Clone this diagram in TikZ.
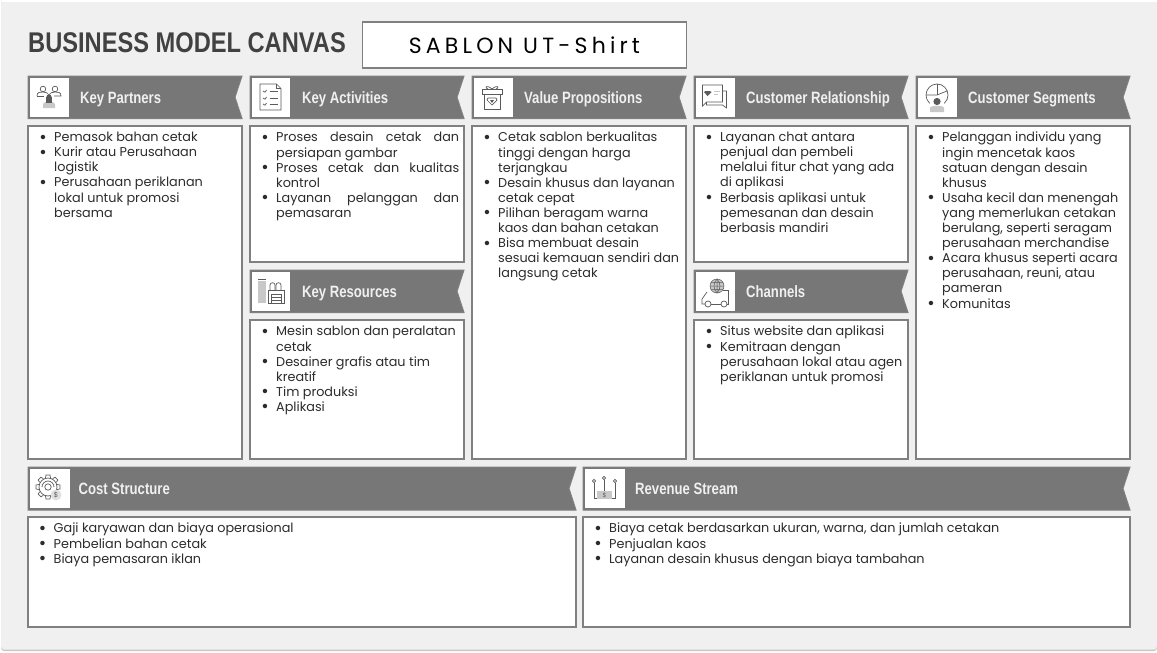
\documentclass[tikz,border=0pt]{standalone}
\usepackage{fontspec}
\setmainfont{Poppins}
\newfontfamily\headf{Liberation Sans}[FakeStretch=0.8]
\newfontfamily\titlef{Liberation Sans}[FakeStretch=0.83]
\newfontfamily\bodyf{Poppins}
\newfontfamily\subf{Poppins}[LetterSpace=19]
\definecolor{panel}{HTML}{F0F0F0}
\definecolor{band}{HTML}{777777}
\definecolor{edge}{HTML}{808080}
\definecolor{ink}{HTML}{2C2C2C}
\definecolor{ico}{HTML}{5A5A5A}
\definecolor{icol}{HTML}{C8C8C8}
\tikzset{
  boxb/.style={draw=edge,line width=1.8pt,fill=white},
  bandb/.style={fill=band,draw=edge,line width=1pt},
  iconbox/.style={fill=white,draw=none},
  headt/.style={anchor=base west,text=panel,inner sep=0pt,font=\headf\bfseries\fontsize{16.4}{16}\selectfont},
  bodyt/.style={anchor=north west,inner sep=0pt,align=left,text=ink,font=\bodyf\fontsize{12.8}{15.1}\selectfont},
  ic/.style={draw=ico,line width=.7pt,fill=none},
  icf/.style={fill=icol,draw=none},
  icd/.style={fill=ico,draw=none},
}
\newcommand{\bi}{\leavevmode\llap{\raisebox{-1.4pt}[0pt][0pt]{\fontsize{18}{15.1}\selectfont\textbullet}\hspace{7.5pt}}}
\newcommand{\jl}[1]{\makebox[183pt][s]{#1}}
% name, x0, x1, y0, y1, icon end, text x, title
\newcommand{\bandhead}[8]{%
  \draw[bandb] (#2,#4) -- (#3,#4) -- ({#3-7},{(#4+#5)/2}) -- (#3,#5) -- (#2,#5) -- cycle;
  \fill[iconbox] ({#2+2},{#4+2}) rectangle (#6,{#5-2});
  \node[headt] (#1) at (#7,{(#4+#5)/2+5.8}) {#8};
}
\begin{document}
\begin{tikzpicture}[x=1pt,y=-1pt]
\useasboundingbox (0,0) rectangle (1157,653);
\fill[white] (0,0) rectangle (1157,653);
\fill[icol] (1,3) [rounded corners=3pt] -- (1,651) -- (1157,651) -- (1157,2) -- (1,2) -- cycle;
\fill[panel] (1,3) [rounded corners=3pt] -- (1,649.5) -- (1157,649.5) -- (1157,2) -- (1,2) -- cycle;

% title
\node[anchor=west,inner sep=0pt,text=ink!90!white,font=\titlef\bfseries\fontsize{28.5}{28}\selectfont] (title) at (28,42.5) {BUSINESS MODEL CANVAS};
\node[draw=edge,line width=1.8pt,fill=white,minimum width=324pt,minimum height=46pt,inner sep=0pt,anchor=north west,font=\subf\fontsize{22}{22}\selectfont,text=black] (sub) at (361.5,21) {SABLON UT-Shirt};

% bodies
\draw[boxb] (28,126) rectangle (242,459);
\draw[boxb] (250,126) rectangle (464,262);
\draw[boxb] (250,320) rectangle (464,459);
\draw[boxb] (472,126) rectangle (686,459);
\draw[boxb] (694,126) rectangle (908,262);
\draw[boxb] (694,320) rectangle (908,459);
\draw[boxb] (916,126) rectangle (1130,459);
\draw[boxb] (28,517) rectangle (576,627);
\draw[boxb] (583,517) rectangle (1130,627);

% headers
\bandhead{hkp}{28}{242}{76}{118.5}{69}{80}{Key Partners}
\bandhead{hka}{250}{464}{76}{118.5}{290}{302}{Key Activities}
\bandhead{hkr}{250}{464}{270}{312.5}{290}{302}{Key Resources}
\bandhead{hvp}{472}{686}{76}{118.5}{513}{524}{Value Propositions}
\bandhead{hcr}{694}{908}{76}{118.5}{735}{746}{Customer Relationship}
\bandhead{hch}{694}{908}{270}{312.5}{735}{746}{Channels}
\bandhead{hcs}{916}{1130}{76}{118.5}{957}{968}{Customer Segments}
\bandhead{hcost}{28}{576}{467}{510}{70}{78.5}{Cost Structure}
\bandhead{hrev}{583}{1130}{467}{510}{625}{635}{Revenue Stream}

% body text
\node[bodyt] (tkp) at (54,132) {\bi Pemasok bahan cetak\\\bi Kurir atau Perusahaan\\logistik\\\bi Perusahaan periklanan\\lokal untuk promosi\\bersama};
\node[bodyt] (tka) at (276,132) {\bi\jl{Proses desain cetak dan}\\persiapan gambar\\\bi\jl{Proses cetak dan kualitas}\\kontrol\\\bi\jl{Layanan pelanggan dan}\\pemasaran};
\node[bodyt] (tkr) at (276,326) {\bi Mesin sablon dan peralatan\\cetak\\\bi Desainer grafis atau tim\\kreatif\\\bi Tim produksi\\\bi Aplikasi};
\node[bodyt] (tvp) at (498,132) {\bi Cetak sablon berkualitas\\tinggi dengan harga\\terjangkau\\\bi Desain khusus dan layanan\\cetak cepat\\\bi Pilihan beragam warna\\kaos dan bahan cetakan\\\bi Bisa membuat desain\\sesuai kemauan sendiri dan\\langsung cetak};
\node[bodyt] (tcr) at (720,132) {\bi Layanan chat antara\\penjual dan pembeli\\melalui fitur chat yang ada\\di aplikasi\\\bi Berbasis aplikasi untuk\\pemesanan dan desain\\berbasis mandiri};
\node[bodyt] (tch) at (720,326) {\bi Situs website dan aplikasi\\\bi Kemitraan dengan\\perusahaan lokal atau agen\\periklanan untuk promosi};
\node[bodyt] (tcs) at (942,132) {\bi Pelanggan individu yang\\ingin mencetak kaos\\satuan dengan desain\\khusus\\\bi Usaha kecil dan menengah\\yang memerlukan cetakan\\berulang, seperti seragam\\perusahaan merchandise\\\bi Acara khusus seperti acara\\perusahaan, reuni, atau\\pameran\\\bi Komunitas};
\node[bodyt] (tcost) at (53.5,523) {\bi Gaji karyawan dan biaya operasional\\\bi Pembelian bahan cetak\\\bi Biaya pemasaran iklan};
\node[bodyt] (trev) at (609,523) {\bi Biaya cetak berdasarkan ukuran, warna, dan jumlah cetakan\\\bi Penjualan kaos\\\bi Layanan desain khusus dengan biaya tambahan};

% icon: partners
\begin{scope}[shift={(49,97)}]
\draw[ic] (-6,-8) circle (2.8); \draw[ic] (6,-8) circle (2.8);
\draw[ic] (-12,-1) .. controls (-12,-5) and (-9,-5) .. (-6,-5) .. controls (-3,-5) and (-1,-4) .. (0,-2) .. controls (1,-4) and (3,-5) .. (6,-5) .. controls (9,-5) and (12,-5) .. (12,-1) -- (5,-1);
\draw[ic] (-12,-1) -- (-5,-1);
\fill[icf] (-6,11) -- (-6,7) .. controls (-6,4) and (6,4) .. (6,7) -- (6,11) -- cycle;
\fill[icd] (-3,6) rectangle (3,0); \fill[icd] (0,0) circle (2.6);
\end{scope}
% icon: activities
\begin{scope}[shift={(270.5,97)}]
\draw[ic] (-10.5,-13) -- (6,-13) -- (10.5,-8.5) -- (10.5,13) -- (-10.5,13) -- cycle;
\draw[ic] (6,-13) -- (6,-8.5) -- (10.5,-8.5);
\foreach \yy in {-6,1,7}{\draw[ic] (-7.5,\yy) -- (-5.5,{\yy+1.2}) -- (-4,{\yy-1}); \draw[ic] (-1,\yy) -- (7,\yy);}
\end{scope}
% icon: resources
\begin{scope}[shift={(270,291)}]
\fill[icf] (-12,-10) rectangle (-4,12);
\draw[ico,line width=1pt] (-12,-11.5) -- (-4,-11.5);
\draw[ic] (-2,12) -- (-2,-1) -- (14,-1) -- (14,12) -- cycle;
\foreach \xx in {0,6}{\draw[ic] (\xx,-1) -- (\xx,-6) .. controls (\xx,-9) and ({\xx+5},-9) .. ({\xx+5},-6) -- ({\xx+5},-1);}
\draw[ic] (1,12) -- (1,3) -- (11,3) -- (11,12);
\draw[ic] (1,6) -- (11,6); \draw[ic] (1,9) -- (11,9);
\end{scope}
% icon: value
\begin{scope}[shift={(492,97)}]
\draw[ic] (-10,-8) rectangle (10,-3);
\draw[ic] (-8,-3) rectangle (8,12);
\draw[ic] (0,-8) .. controls (-6,-13) and (-8,-9) .. (-4,-8);
\draw[ic] (0,-8) .. controls (6,-13) and (8,-9) .. (4,-8);
\draw[ic] (-4,1) -- (4,1) -- (5,3) -- (0,8) -- (-5,3) -- cycle;
\fill[ico] (-2,3) -- (2,3) -- (0,6) -- cycle;
\end{scope}
% icon: relationship
\begin{scope}[shift={(714.5,97)}]
\draw[ic] (-12,-12) -- (8,-12) -- (8,5) -- (-8,5) -- (-12,9) -- cycle;
\draw[ic] (8,-6) -- (12,-6) -- (12,11) -- (8,8) -- (-8,8) -- (-8,5);
\fill[ico] (-9,-6) -- (-5,-6) -- (-3,-5) -- (-7,-1) -- (-10.5,-5) -- cycle;
\draw[icol,line width=1pt] (-1,-6) -- (5,-6); \draw[icol,line width=1pt] (-1,-3) -- (3,-3);
\end{scope}
% icon: channels
\begin{scope}[shift={(715,295)}]
\draw[ic] (-8,-3) -- (-13,4) -- (-13,9) -- (-10,9);
\draw[ic] (-4,9) -- (6,9); \draw[ic] (12,9) -- (13,9) -- (13,-5) -- (8,-5);
\draw[ic] (-7,9) circle (3); \draw[ic] (9,9) circle (3);
\fill[icf] (2,-9) circle (7);
\draw[ico,line width=.5pt] (2,-9) circle (7) (-5,-9) -- (9,-9) (2,-16) -- (2,-2) (-4,-12.5) -- (8,-12.5) (-4,-5.5) -- (8,-5.5);
\draw[ico,line width=.5pt] (2,-16) .. controls (-2,-12) and (-2,-6) .. (2,-2) .. controls (6,-6) and (6,-12) .. (2,-16);
\end{scope}
% icon: segments
\begin{scope}[shift={(937,95)}]
\draw[ic] (0,0) circle (11);
\draw[ic] (-11,0) -- (0,0) -- (10,-4); \draw[ic] (0,0) -- (0,-11);
\fill[white] (-7,4) rectangle (7,17);
\fill[icf] (-7,17) -- (-7,13) .. controls (-7,10) and (7,10) .. (7,13) -- (7,17) -- cycle;
\fill[ico] (0,6.5) circle (3.6);
\end{scope}
% icon: cost
\begin{scope}[shift={(48,487)}]
\foreach \aa in {0,45,...,315}{\draw[ic,rotate=\aa] (-2.5,-9) -- (-2,-12) -- (2,-12) -- (2.5,-9);}
\draw[ic] (0,0) circle (9);
\draw[ic] (0,0) circle (3.2);
\draw[ic] (-6,0) arc (180:360:6);
\fill[panel!60!icol] (8,8) circle (5.5);
\node[inner sep=0pt,text=ico,font=\fontsize{7}{7}\selectfont] (cd) at (8,8) {\$};
\end{scope}
% icon: revenue
\begin{scope}[shift={(604,488)}]
\fill[icf] (-7,3) rectangle (8,11);
\node[inner sep=0pt,text=ico,font=\fontsize{6}{6}\selectfont] (rd) at (0.5,7) {\$};
\draw[ic] (-10,-7) circle (1.6); \draw[ic] (0,-10) circle (1.6); \draw[ic] (11,-7) circle (1.6);
\draw[ic] (0,-8.4) -- (0,3);
\draw[ic] (-10,-5.4) -- (-10,10) -- (-7,10);
\draw[ic] (11,-5.4) -- (11,10) -- (8,10);
\end{scope}
\end{tikzpicture}
\end{document}
